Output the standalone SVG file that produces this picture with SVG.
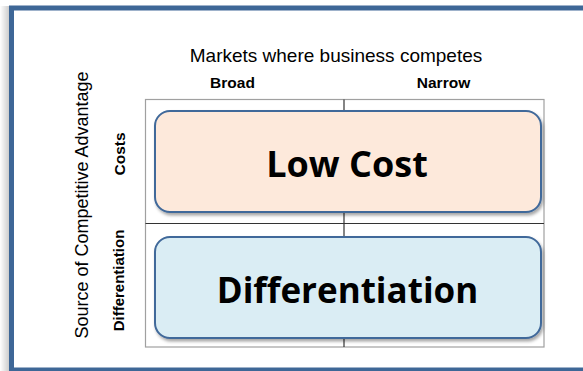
<svg xmlns="http://www.w3.org/2000/svg" width="583" height="371" viewBox="0 0 583 371">
<defs>
<linearGradient id="lshadow" x1="0" y1="0" x2="1" y2="0">
<stop offset="0" stop-color="#ffffff"/>
<stop offset="1" stop-color="#c8c8c8"/>
</linearGradient>
<filter id="sh" x="-10%" y="-10%" width="120%" height="130%">
<feDropShadow dx="1.5" dy="2.5" stdDeviation="1.8" flood-color="#000" flood-opacity="0.35"/>
</filter>
</defs>
<style>
.lbl{font-family:"Liberation Sans",Arial,sans-serif;fill:#000}
.hdr{font-family:"Liberation Sans",Arial,sans-serif;font-weight:bold;fill:#000}
.big{font-family:"Open Sans","Noto Sans",sans-serif;font-weight:bold;fill:#000}
.box{stroke:#41699a;stroke-width:2}
.grid{fill:none;stroke:#a0a0a0;stroke-width:1.2}
.div{stroke:#333;stroke-width:1.2}
</style>
<rect x="0" y="0" width="583" height="371" fill="#fff"/>
<rect x="0" y="6" width="10" height="365" fill="url(#lshadow)"/>
<g id="frame">
<rect x="11.5" y="8" width="600" height="362" fill="#fff" stroke="#3e6797" stroke-width="5"/>
</g>
<g id="title">
<text class="lbl" x="336" y="62" font-size="19" text-anchor="middle">Markets where business competes</text>
<text class="hdr" x="232.5" y="88" font-size="15.5" text-anchor="middle">Broad</text>
<text class="hdr" x="443.5" y="88" font-size="15.5" text-anchor="middle">Narrow</text>
<text class="lbl" font-size="18" text-anchor="middle" transform="translate(88,205) rotate(-90)">Source of Competitive Advantage</text>
<text class="hdr" font-size="15.5" text-anchor="middle" transform="translate(125,154) rotate(-90)">Costs</text>
<text class="hdr" font-size="15" text-anchor="middle" transform="translate(124,280.5) rotate(-90)">Differentiation</text>
</g>
<g id="connectors">
<rect class="grid" x="145.5" y="99.5" width="398.5" height="247.5"/>
<line class="div" x1="145.5" y1="223.5" x2="544" y2="223.5"/>
<line class="div" x1="344" y1="99.5" x2="344" y2="347"/>
</g>
<g id="lowcost">
<rect class="box" x="155" y="111" width="386" height="101" rx="15" fill="#fde9db" filter="url(#sh)"/>
<text class="big" x="347" y="177" font-size="36" text-anchor="middle">Low Cost</text>
</g>
<g id="differentiation">
<rect class="box" x="155" y="237" width="386" height="101" rx="15" fill="#daedf4" filter="url(#sh)"/>
<text class="big" x="347.5" y="303" font-size="35" text-anchor="middle">Differentiation</text>
</g>
</svg>
